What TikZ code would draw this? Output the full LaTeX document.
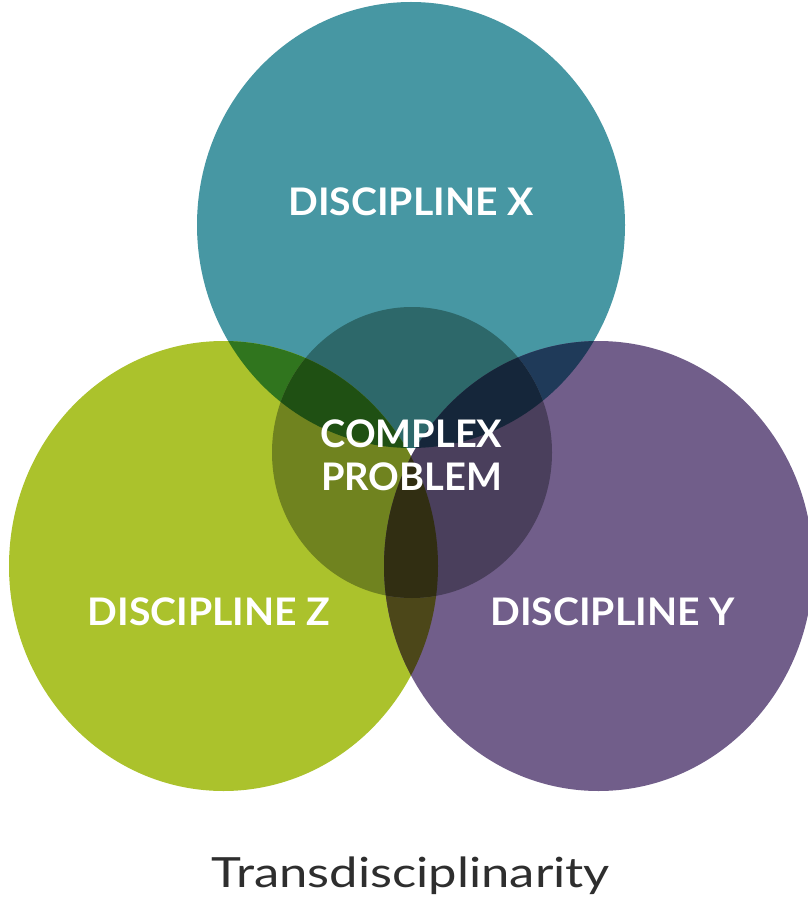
\documentclass[tikz,border=0pt]{standalone}
\usepackage{fontspec}
\usepackage{graphicx}
\setmainfont{Lato}
\definecolor{colX}{HTML}{4797A3}
\definecolor{colZ}{HTML}{ABC22C}
\definecolor{colY}{HTML}{715E8A}
\definecolor{colXZ}{HTML}{30751E}
\definecolor{colXY}{HTML}{1F3A59}
\definecolor{colZY}{HTML}{4C4719}
\definecolor{colCX}{HTML}{2D686A}
\definecolor{colCZ}{HTML}{70831F}
\definecolor{colCY}{HTML}{4A3F5C}
\definecolor{colCXZ}{HTML}{1F5013}
\definecolor{colCXY}{HTML}{15263A}
\definecolor{colCZY}{HTML}{312E12}
\definecolor{titlegray}{HTML}{2E2E2E}
\def\shX{(411,225) ellipse [x radius=214pt, y radius=223pt]}
\def\shZ{(223.5,566) ellipse [x radius=214.5pt, y radius=225pt]}
\def\shY{(598.5,566) ellipse [x radius=214.5pt, y radius=225pt]}
\def\shC{(412,452.5) ellipse [x radius=140pt, y radius=145.5pt]}
\tikzset{
  label/.style={text=white, font=\fontsize{38}{43}\selectfont\bfseries, inner sep=0pt},
  titletext/.style={text=titlegray, font=\fontsize{40}{46}\selectfont, inner sep=0pt}
}
\begin{document}
\begin{tikzpicture}[x=1pt,y=-1pt]
\useasboundingbox (0,0) rectangle (807,901);
\fill[white] (0,0) rectangle (807,901);
% base circles
\fill[colX] \shX;
\fill[colZ] \shZ;
\fill[colY] \shY;
% pairwise overlaps
\begin{scope}
  \clip \shX;
  \fill[colXZ] \shZ;
  \fill[colXY] \shY;
\end{scope}
\begin{scope}
  \clip \shZ;
  \fill[colZY] \shY;
\end{scope}
% central circle
\begin{scope}
  \clip \shC;
  \fill[colCX] \shX;
  \fill[colCZ] \shZ;
  \fill[colCY] \shY;
  \begin{scope}
    \clip \shX;
    \fill[colCXZ] \shZ;
    \fill[colCXY] \shY;
  \end{scope}
  \begin{scope}
    \clip \shZ;
    \fill[colCZY] \shY;
  \end{scope}
\end{scope}
% labels
\node[label] (x) at (411,202) {\scalebox{1.03}[1]{DISCIPLINE X}};
\node[label] (z) at (209,611.5) {\scalebox{1.03}[1]{DISCIPLINE Z}};
\node[label] (y) at (612.5,611.5) {\scalebox{1.03}[1]{DISCIPLINE Y}};
\node[label, align=center] (c) at (411.5,455) {COMPLEX\\PROBLEM};
\node[titletext, anchor=base] (t) at (411,887) {\resizebox{398pt}{!}{\scalebox{1}[0.82]{Transdisciplinarity}}};
\end{tikzpicture}
\end{document}
